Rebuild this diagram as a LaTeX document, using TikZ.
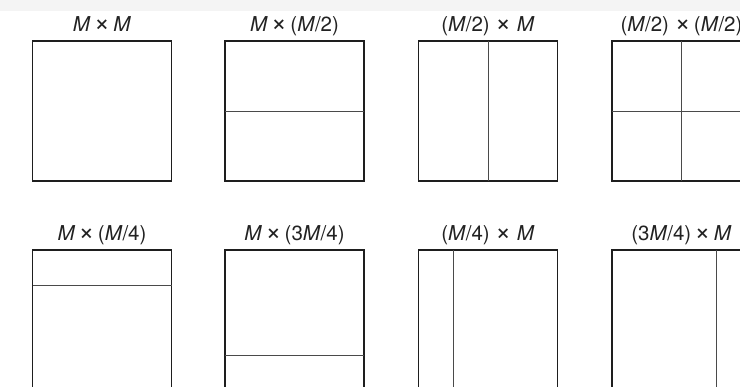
\documentclass[tikz,border=0pt]{standalone}
\usepackage{fontspec}
\setmainfont{TeX Gyre Heros}
\usetikzlibrary{calc}
\definecolor{boxc}{HTML}{1E1E1E}
\definecolor{divc}{HTML}{4A4A4A}
\definecolor{txtc}{HTML}{222222}
\definecolor{bandc}{HTML}{F4F4F4}
\newcommand{\mm}{\textit{M}}
\newcommand{\tmx}{{\fontsize{27}{27}\selectfont ×}}
\newcommand{\tms}{\,\tmx\,}
\begin{document}
\begin{tikzpicture}[x=1pt,y=-1pt,
  blockbox/.style={draw=boxc,line width=1.7pt,minimum width=139pt,minimum height=140pt,inner sep=0pt,outer sep=0pt,anchor=north west},
  divline/.style={draw=divc,line width=0.9pt},
  lbl/.style={text=txtc,font=\fontsize{20.5}{24}\selectfont,anchor=base,inner sep=0pt}]
\useasboundingbox (0,0) rectangle (740,387);
\clip (0,0) rectangle (740,387);
\fill[bandc] (0,0) rectangle (740,11);
% row 1
\node[blockbox] (b1) at (32.5,41) {};
\node[blockbox] (b2) at (225,41) {};
\node[blockbox] (b3) at (418.5,41) {};
\node[blockbox] (b4) at (612,41) {};
% row 2
\node[blockbox] (b5) at (32.5,250) {};
\node[blockbox] (b6) at (225,250) {};
\node[blockbox] (b7) at (418.5,250) {};
\node[blockbox] (b8) at (612,250) {};
% labels
\node[lbl] (l1) at ([yshift=9pt]b1.north) {\mm\tms\mm};
\node[lbl] (l2) at ([yshift=9pt]b2.north) {\mm\tms(\mm/2)};
\node[lbl] (l3) at ([yshift=9pt]b3.north) {(\mm/2)\;\tmx\;\mm};
\node[lbl] (l4) at ([yshift=9pt]b4.north) {(\mm/2)\;\tmx\,(\mm/2)};
\node[lbl] (l5) at ([yshift=9pt]b5.north) {\mm\tms(\mm/4)};
\node[lbl] (l6) at ([yshift=9pt]b6.north) {\mm\tms(3\mm/4)};
\node[lbl] (l7) at ([yshift=9pt]b7.north) {(\mm/4)\;\tmx\;\mm};
\node[lbl] (l8) at ([yshift=9pt]b8.north) {(3\mm/4)\,\tmx\,\mm};
% dividers
\draw[divline] (b2.west) -- (b2.east);
\draw[divline] (b3.north) -- (b3.south);
\draw[divline] (b4.west) -- (b4.east);
\draw[divline] (b4.north) -- (b4.south);
\draw[divline] ($(b5.north west)!0.25!(b5.south west)$) -- ($(b5.north east)!0.25!(b5.south east)$);
\draw[divline] ($(b6.north west)!0.75!(b6.south west)$) -- ($(b6.north east)!0.75!(b6.south east)$);
\draw[divline] ($(b7.north west)!0.25!(b7.north east)$) -- ($(b7.south west)!0.25!(b7.south east)$);
\draw[divline] ($(b8.north west)!0.75!(b8.north east)$) -- ($(b8.south west)!0.75!(b8.south east)$);
\end{tikzpicture}
\end{document}
